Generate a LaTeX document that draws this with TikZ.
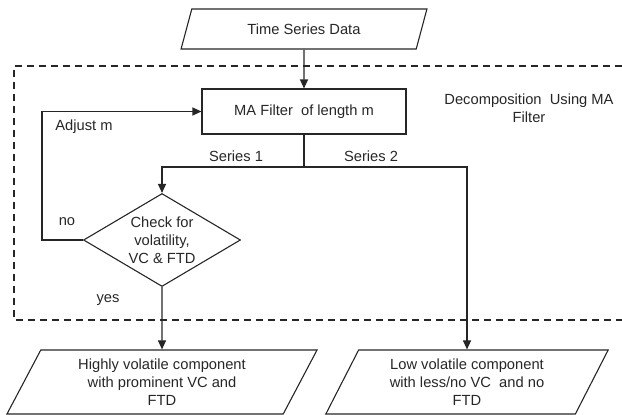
\documentclass[tikz,border=0pt]{standalone}
\usepackage{fontspec}
\setmainfont{Liberation Sans}
\usetikzlibrary{shapes.geometric,arrows.meta}
\begin{document}
\begin{tikzpicture}[x=1pt,y=-1pt,
        font=\fontsize{14.7}{18}\selectfont,
        every node/.style={text=black!85},
        flow/.style={draw=black!85,line width=1.1pt},
        arr/.style={flow,-{Triangle[length=9pt,width=8pt]}},
        groupline/.style={draw=black!85,line width=2pt,dash pattern=on 7pt off 5pt},
        io/.style={trapezium,trapezium left angle=63.4,trapezium right angle=116.6,
            trapezium stretches=true,flow,align=center,inner sep=0pt},
        proc/.style={rectangle,flow,minimum width=204pt,minimum height=45pt,inner sep=0pt},
        test/.style={diamond,flow,aspect=1.69,align=center,inner sep=0pt,
            minimum width=157pt,minimum height=93pt}]
    \useasboundingbox (0,0) rectangle (622,415);
    %% decomposition block
    \draw[groupline] (622,66) -- (14,66) -- (14,320) -- (622,320);
    \node[align=center] (decomp) at (529,108.5) {Decomposition\ \ Using MA\\Filter};
    %% shapes
    \node[io,minimum width=246pt,minimum height=40pt] (data) at (304,29) {Time Series Data};
    \node[proc] (ma) at (304,111.5) {MA Filter\ \ of length m};
    \node[test] (check) at (162,240) {Check for\\volatility,\\VC \& FTD};
    \node[io,minimum width=311pt,minimum height=64pt] (high) at (162,382)
        {Highly volatile component\\with prominent VC and\\FTD};
    \node[io,minimum width=283pt,minimum height=64pt] (low) at (467,382)
        {Low volatile component\\with less/no VC\ \ and no\\FTD};
    %% connectors
    \coordinate (split) at (304,167);
    \coordinate (loop) at (42,240);
    \draw[arr] (data) -- (ma);
    \draw[flow] (ma) -- (split);
    \draw[arr] (split) -| (check.north);
    \draw[arr] (split) -| (low.north);
    \draw[arr] (check.south) -- (high.north);
    \draw[arr] (check.west) -- (loop) |- (ma.west);
    %% labels
    \node (adjust) at (84,127) {Adjust m};
    \node (no) at (67,222) {no};
    \node (yes) at (108,300) {yes};
    \node (s1) at (236,156) {Series 1};
    \node (s2) at (371,156) {Series 2};
\end{tikzpicture}
\end{document}
